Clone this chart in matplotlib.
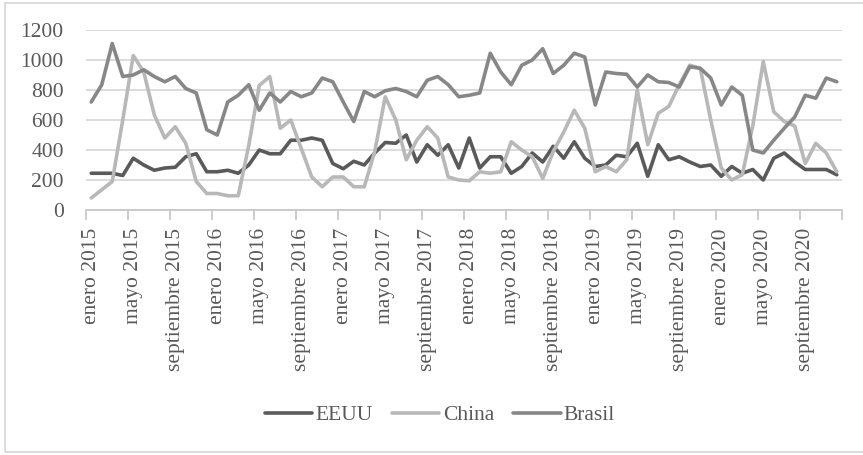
import numpy as np
import matplotlib.pyplot as plt
from matplotlib.patches import Rectangle

# valores mensuales, enero 2015 - diciembre 2020
eeuu = [245, 245, 245, 230, 345, 300, 265, 280, 285, 355, 375, 255,
        255, 265, 245, 300, 400, 375, 375, 465, 465, 480, 465, 310,
        275, 325, 300, 380, 450, 445, 500, 320, 435, 365, 435, 280,
        480, 280, 355, 355, 245, 290, 380, 320, 425, 345, 455, 345,
        290, 300, 365, 355, 445, 225, 435, 335, 355, 320, 290, 300,
        225, 290, 245, 270, 200, 345, 380, 320, 270, 270, 270, 235]
china = [80, 135, 190, 600, 1030, 920, 635, 480, 555, 445, 190, 110,
         110, 95, 95, 430, 830, 890, 545, 600, 410, 220, 155, 220,
         220, 155, 155, 390, 755, 600, 335, 465, 555, 480, 220, 200,
         195, 255, 245, 255, 455, 400, 355, 210, 390, 520, 665, 545,
         255, 290, 255, 335, 800, 435, 645, 690, 835, 965, 945, 600,
         280, 200, 235, 560, 990, 655, 590, 560, 310, 445, 380, 255]
brasil = [720, 835, 1110, 890, 900, 935, 890, 855, 890, 810, 780, 535,
          500, 720, 765, 835, 665, 780, 720, 790, 755, 780, 880, 855,
          720, 590, 790, 755, 795, 810, 790, 755, 865, 890, 835, 755,
          765, 780, 1045, 920, 835, 965, 1000, 1075, 910, 965, 1045, 1020,
          700, 920, 910, 905, 820, 900, 855, 850, 820, 955, 945, 880,
          700, 820, 765, 400, 380, 465, 545, 620, 765, 745, 880, 855]

meses = ["enero", "mayo", "septiembre"]
anios = [2015, 2016, 2017, 2018, 2019, 2020]
etiquetas = [f"{m} {a}" for a in anios for m in meses]

plt.rcParams['font.family'] = ['Liberation Serif', 'DejaVu Serif']
gris_texto = '#595959'

fig = plt.figure(figsize=(8.63, 4.55), dpi=100)
ax = fig.add_axes([86/863, 1 - 210/455, 756/863, 180/455])

x = np.arange(len(eeuu))
series = [(eeuu, "EEUU", '#5a5a5a'),
          (china, "China", '#b8b8b8'),
          (brasil, "Brasil", '#878787')]
for valores, nombre, color in series:
    ax.plot(x, valores, color=color, lw=2.6, label=nombre,
            solid_joinstyle='round', solid_capstyle='round')

ax.set_xlim(-0.5, len(eeuu) - 0.5)
ax.set_ylim(0, 1200)
ax.set_yticks(range(0, 1201, 200))
ax.yaxis.grid(True, color='#d9d9d9', lw=1.3)
ax.set_axisbelow(True)
for s in ['top', 'right', 'left']:
    ax.spines[s].set_visible(False)
ax.spines['bottom'].set_color('#c8c8c8')
ax.spines['bottom'].set_linewidth(1.3)
ax.tick_params(axis='y', length=0, pad=16, labelsize=15.5, labelcolor=gris_texto)

# marcas en los limites de cada grupo de 4 meses, etiquetas centradas en el mes
ax.set_xticks(np.arange(-0.5, len(eeuu), 4))
ax.set_xticklabels([])
ax.tick_params(axis='x', which='major', length=7, color='#c8c8c8', width=1.3)
ax.set_xticks(np.arange(0, len(eeuu), 4), minor=True)
ax.set_xticklabels(etiquetas, minor=True, rotation=90, fontsize=15.5, color=gris_texto)
ax.tick_params(axis='x', which='minor', length=0, pad=13)

fig.legend(loc='center', bbox_to_anchor=(440/863, 1 - 415/455), ncol=3,
           frameon=False, handlelength=2.2, handletextpad=0.15,
           columnspacing=0.9, fontsize=15.5, labelcolor=gris_texto)

fig.patches.append(Rectangle((5/863, 3/455), 1.0, 449/455, transform=fig.transFigure,
                             fill=False, edgecolor='#d9d9d9', lw=1.3))

fig.savefig('out.png', dpi=100)
